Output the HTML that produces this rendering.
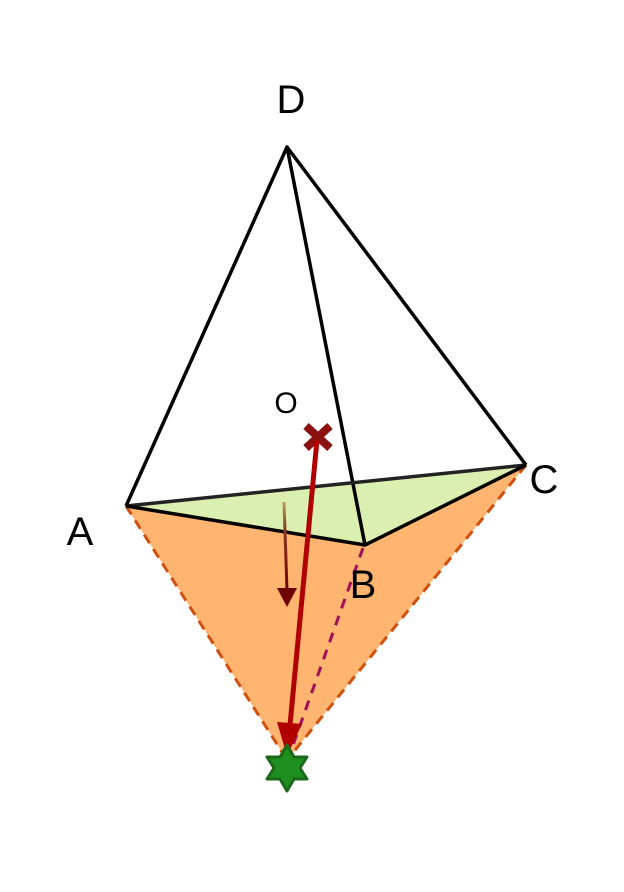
<!DOCTYPE html>
<html><head><style>body{margin:0;background:#fff}svg{display:block}</style></head><body>
<svg width="624" height="892" viewBox="0 0 624 892" xmlns="http://www.w3.org/2000/svg" font-family="Liberation Sans, sans-serif">
<defs>
<linearGradient id="g" x1="0" y1="0" x2="0" y2="1"><stop offset="0" stop-color="#b8a060"/><stop offset="0.3" stop-color="#8a3a20"/><stop offset="1" stop-color="#6f0000"/></linearGradient>
</defs>
<polygon points="126,506 526,465 287,760" fill="#ffb570"/>
<line x1="126" y1="506" x2="287" y2="760" stroke="#d05010" stroke-width="3" stroke-dasharray="10,7"/>
<line x1="526" y1="465" x2="287" y2="760" stroke="#d05010" stroke-width="3" stroke-dasharray="10,7"/>
<polygon points="126,506 526,465 365,545" fill="#dbefb0"/>
<line x1="365" y1="545" x2="526" y2="465" stroke="#d05010" stroke-width="2" stroke-dasharray="8,6" opacity="0.6"/>
<g stroke="#000" stroke-width="3.5" fill="none" stroke-linejoin="round">
<polyline points="126,506 287,147 526,465"/>
<line x1="287" y1="147" x2="365" y2="545"/>
<line x1="126" y1="506" x2="526" y2="465" stroke="#222"/>
<polyline points="126,506 365,545 526,465"/>
</g>
<line x1="363" y1="548" x2="292" y2="748" stroke="#a0105a" stroke-width="3" stroke-dasharray="10,8"/>
<line x1="284" y1="502" x2="287" y2="590" stroke="url(#g)" stroke-width="3"/>
<polygon points="277,588 297,588 287,607" fill="#6f0000"/>
<g transform="translate(318,437)">
<path d="M-12,-11 L12,11 M12,-11 L-12,11" stroke="#8b1010" stroke-width="8"/>
</g>
<line x1="317" y1="440" x2="290" y2="725" stroke="#b00000" stroke-width="5"/>
<polygon points="277,722 302,724 287,756" fill="#b00000"/>
<polygon points="287,745 294,757 307,757 300,768 307,779 294,779 287,791 280,779 267,779 274,768 267,757 280,757" fill="#1e8e1e" stroke="#1a6a1a" stroke-width="3" stroke-linejoin="round"/>
<text x="291" y="113" font-size="40" text-anchor="middle">D</text>
<text x="80" y="545" font-size="40" text-anchor="middle">A</text>
<text x="544" y="493" font-size="40" text-anchor="middle">C</text>
<text x="363" y="598" font-size="40" text-anchor="middle">B</text>
<text x="286" y="413" font-size="30" text-anchor="middle">O</text>
</svg>
</body></html>
